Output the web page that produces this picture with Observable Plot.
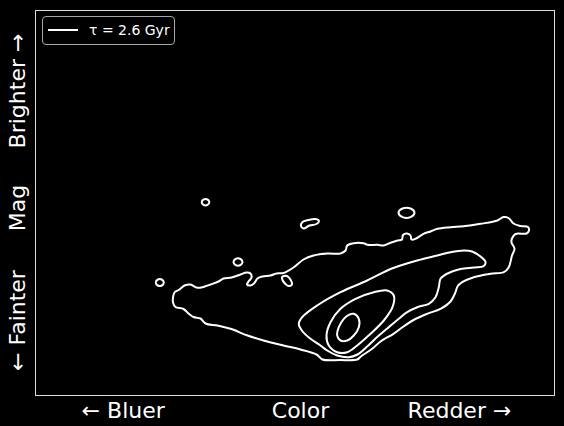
<!DOCTYPE html>
<html><head><meta charset="utf-8">
<script src="https://cdn.jsdelivr.net/npm/d3@7"></script>
<script src="https://cdn.jsdelivr.net/npm/@observablehq/plot@0.6"></script>
<style>
html,body{margin:0;padding:0;background:#000;}
#wrap{position:relative;width:564px;height:426px;font-family:"DejaVu Sans",sans-serif;}
#legend{position:absolute;left:42px;top:16px;width:131px;height:27px;border:1.3px solid #a6a6a6;border-radius:4px;background:rgba(0,0,0,0.8);box-sizing:content-box;}
#legend .ln{position:absolute;left:4.5px;top:12px;width:30.5px;height:2px;background:#fff;}
#legend .tx{position:absolute;left:46px;top:5px;font-size:14px;line-height:16px;color:#fff;white-space:nowrap;}
</style>
</head><body>
<div id="wrap"><div id="chart"></div>
<div id="legend"><div class="ln"></div><div class="tx">τ = 2.6 Gyr</div></div></div>
<script>
// Contour levels, points as [color, magnitude(brightness up)] in arbitrary units
const outerLevel = [[137.5,98],[139,103],[144,106],[149,110],[155,111],[161,108],[166,108],[175,111],[183,114],[188,117],[196,118],[205,121],[211,123],[215,122],[216,118],[213,114],[211.5,111],[215,110],[218.5,112],[222,117],[227,119],[235,120],[241,122],[248,122.5],[258,128],[268,136],[278,140],[292,142],[305,142],[310,145],[311.7,150],[318,152.3],[328,152.3],[332,150.7],[342,150.7],[348,150],[355,152.7],[362,155],[366.5,156],[367.5,160.5],[371.5,162],[375,160],[376,156],[380,156.7],[388,161.7],[395,164],[402,166.7],[415,168.3],[428,169.3],[445,171.7],[462,175],[468,178.5],[473,177.5],[478,172],[485,169.5],[492.5,168.5],[493.5,165],[491,162],[480,161.5],[476.5,157],[476,153],[479,146.7],[476.5,140],[473.3,128.3],[468.3,123.3],[455,121.7],[438.3,118.3],[426.7,113.3],[422,109],[420,103.3],[415,94],[405,86.7],[391.7,81.7],[378,75.5],[368,69],[358,61.7],[345,54],[336.7,46.7],[326,39.5],[321.7,36],[305,35.5],[287,36],[281,41],[265,46],[248,50],[228,55],[212,60],[195,66.7],[182,70],[170,72],[165,77],[158,78.5],[153,82],[148,86.5],[140,88.5],[137.5,93]];
const midLevel = [[331.7,115],[355,126.5],[365,130],[381.7,135],[401.7,140],[415,143.3],[428.3,145],[436.7,144],[445,139],[450,133.5],[448.3,129.5],[438.3,128],[425,126.5],[412,122],[405,116.7],[403.3,108.3],[400,98.3],[393.3,91.7],[381.7,88.3],[371.7,83.3],[363.3,76.7],[351.7,67],[340,57],[331.7,49],[322,41],[313.3,38.3],[301.7,40],[291.7,45],[285,50],[275,56.7],[266.7,64.5],[263.3,71.5],[266.7,78.3],[281.7,90],[305,103.3]];
const innerLevel = [[351.7,105],[358.3,100],[357,88.3],[348.3,75],[335,61.7],[321.7,50],[311.7,43.3],[301.7,43.3],[293.3,50],[291,60],[295,73.3],[305,86.7],[320,96.7],[338.3,103.3]];
const coreLevel = [[318.3,81.7],[323.3,76.7],[323.3,68.3],[318.3,60],[311.7,55],[305,55],[301.7,60],[303.3,68.3],[308.3,76.7],[313.3,80.7]];
const islands = [
  [[173.8,193.3],[172,196],[168,196],[166.2,193.3],[168,190.6],[172,190.6]],
  [[265.5,169.5],[267,173.5],[273,175.5],[280,176.5],[283.5,174.5],[281,171.5],[274,170],[268,167]],
  [[379,182.7],[375,187],[367,187],[363,182.7],[367,178.4],[375,178.4]],
  [[207,133.5],[205,136.5],[200,136.5],[198,133.5],[200,130.5],[205,130.5]],
  [[128.3,113],[126.3,116],[122.3,116],[120.3,113],[122.3,110],[126.3,110]],
  [[246.5,118.5],[251.5,119.5],[255.5,115],[256.5,111],[253,109.5],[249.5,112],[247,115.5]]
];
const xTickPos = [87.7, 265, 424];
const xTickLabels = ["← Bluer", "Color", "Redder →"];
const yTickPos = [304.5, 187.5, 75];
const yTickLabels = ["Brighter →", "Mag", "← Fainter"];

const lineOpts = {x: d => d[0], y: d => d[1], curve: "catmull-rom-closed", stroke: "white", strokeWidth: 2};
const chart = Plot.plot({
  width: 564, height: 426,
  marginLeft: 35, marginRight: 10, marginTop: 10, marginBottom: 31,
  style: {background: "black", color: "white", fontFamily: "DejaVu Sans"},
  x: {domain: [0, 519], axis: null},
  y: {domain: [0, 385], axis: null},
  marks: [
    Plot.line(outerLevel, lineOpts),
    Plot.line(midLevel, lineOpts),
    Plot.line(innerLevel, lineOpts),
    Plot.line(coreLevel, lineOpts),
    ...islands.map(isl => Plot.line(isl, lineOpts)),
    Plot.frame({stroke: "#dcdcdc", strokeWidth: 1}),
    Plot.text(xTickLabels, {x: (d, i) => xTickPos[i], text: d => d, frameAnchor: "bottom", dy: 15, fontSize: 22, fill: "white", lineAnchor: "middle"}),
    Plot.text(yTickLabels, {y: (d, i) => yTickPos[i], text: d => d, frameAnchor: "left", dx: -18, rotate: -90, textAnchor: "middle", lineAnchor: "middle", fontSize: 22, fill: "white"})
  ]
});
document.getElementById("chart").appendChild(chart);
</script>
</body></html>
